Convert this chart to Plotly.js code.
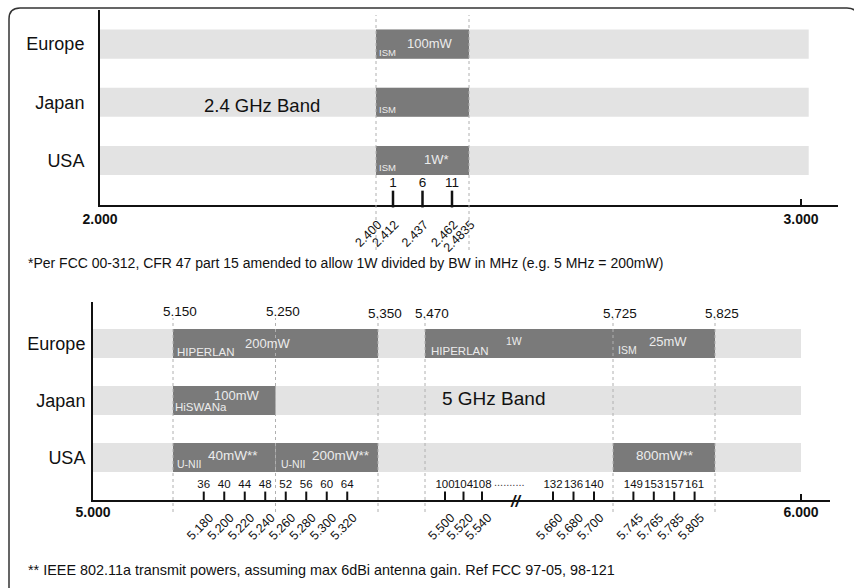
<!DOCTYPE html>
<html>
<head>
<meta charset="utf-8">
<script src="https://cdn.plot.ly/plotly-3.0.1.min.js"></script>
<style>html,body{margin:0;padding:0;background:#fff;}#chart{width:854px;height:588px;}</style>
</head>
<body>
<div id="chart"></div>
<script>
// ---------------- DATA ----------------
const regions = ['Europe', 'Japan', 'USA'];

// 2.4 GHz band (GHz)
const band24Extent = [2.000, 3.012];
const alloc24Region = ['Europe', 'Japan', 'USA'];
const alloc24Start = [2.400, 2.400, 2.400];
const alloc24End = [2.4835, 2.4835, 2.4835];
const edge24 = [2.400, 2.4835];
const ch24Num = ['1', '6', '11'];
const ch24Freq = [2.412, 2.437, 2.462];
const freqTicks24 = [2.400, 2.412, 2.437, 2.462, 2.4835];
const freqTickText24 = ['2.400', '2.412', '2.437', '2.462', '2.4835'];
const axisTicks24 = [2.000, 3.000];
const axisTickText24 = ['2.000', '3.000'];

// 5 GHz band (GHz)
const band5Extent = [5.000, 6.000];
const alloc5Region = ['Europe', 'Europe', 'Europe', 'Japan', 'USA', 'USA', 'USA'];
const alloc5Start = [5.150, 5.470, 5.725, 5.150, 5.150, 5.250, 5.725];
const alloc5End = [5.350, 5.725, 5.825, 5.250, 5.250, 5.350, 5.825];
const edge5 = [5.150, 5.250, 5.350, 5.470, 5.725, 5.825];
const edge5Text = ['5.150', '5.250', '5.350', '5.470', '5.725', '5.825'];
const ch5Num = ['36', '40', '44', '48', '52', '56', '60', '64', '100', '104', '108', '132', '136', '140', '149', '153', '157', '161'];
const ch5Freq = [5.180, 5.200, 5.220, 5.240, 5.260, 5.280, 5.300, 5.320, 5.500, 5.520, 5.540, 5.660, 5.680, 5.700, 5.745, 5.765, 5.785, 5.805];
const freqTickText5 = ['5.180', '5.200', '5.220', '5.240', '5.260', '5.280', '5.300', '5.320', '5.500', '5.520', '5.540', '5.660', '5.680', '5.700', '5.745', '5.765', '5.785', '5.805'];
const axisTicks5 = [5.000, 6.000];
const axisTickText5 = ['5.000', '6.000'];

const footnote24 = '*Per FCC 00-312, CFR 47 part 15 amended to allow 1W divided by BW in MHz (e.g. 5 MHz = 200mW)';
const footnote5 = '** IEEE 802.11a transmit powers, assuming max 6dBi antenna gain. Ref FCC 97-05, 98-121';

// ---------------- SCHEMATIC (non-linear) FREQUENCY SCALE ----------------
const warp24F = [2.000, 2.400, 2.412, 2.462, 2.4835, 3.000];
const warp24P = [100, 376, 393, 452, 469, 801];
const warp5F = [5.000, 5.150, 5.350, 5.470, 5.500, 5.540, 5.660, 5.700, 5.725, 5.825, 6.000];
const warp5P = [93, 173, 378, 425, 445, 482, 553, 594, 613, 715, 801];
function makeWarp(F, P) {
  return function (f) {
    let i = 0;
    if (f <= F[0]) i = 0;
    else if (f >= F[F.length - 1]) i = F.length - 2;
    else { while (i < F.length - 2 && f > F[i + 1]) i++; }
    return P[i] + (f - F[i]) * (P[i + 1] - P[i]) / (F[i + 1] - F[i]);
  };
}
const w24 = makeWarp(warp24F, warp24P);
const w5 = makeWarp(warp5F, warp5P);
const yOf = r => 2 - regions.indexOf(r);

// ---------------- STYLE ----------------
const FONT = 'Liberation Sans, Arial, Helvetica, sans-serif';
const LIGHT = '#e3e3e3';
const DARK = '#7a7a7a';
const INK = '#111111';
const BARTXT = '#ececec';
const W = 854, H = 588;
const px = v => v / W, py = v => 1 - v / H;

const traces = [];
traces.push({
  type: 'bar', orientation: 'h', xaxis: 'x', yaxis: 'y',
  y: regions.map(yOf), base: regions.map(() => w24(band24Extent[0])),
  x: regions.map(() => w24(band24Extent[1]) - w24(band24Extent[0])),
  width: 0.5, marker: { color: LIGHT, line: { width: 0 } }, hoverinfo: 'skip'
});
traces.push({
  type: 'bar', orientation: 'h', xaxis: 'x', yaxis: 'y',
  y: alloc24Region.map(yOf), base: alloc24Start.map(w24),
  x: alloc24Start.map((s, i) => w24(alloc24End[i]) - w24(s)),
  width: 0.5, marker: { color: DARK, line: { width: 0 } }, hoverinfo: 'skip'
});
traces.push({
  type: 'bar', orientation: 'h', xaxis: 'x2', yaxis: 'y2',
  y: regions.map(yOf), base: regions.map(() => w5(band5Extent[0])),
  x: regions.map(() => w5(band5Extent[1]) - w5(band5Extent[0])),
  width: 0.51, marker: { color: LIGHT, line: { width: 0 } }, hoverinfo: 'skip'
});
traces.push({
  type: 'bar', orientation: 'h', xaxis: 'x2', yaxis: 'y2',
  y: alloc5Region.map(yOf), base: alloc5Start.map(w5),
  x: alloc5Start.map((s, i) => w5(alloc5End[i]) - w5(s)),
  width: 0.51, marker: { color: DARK, line: { width: 0 } }, hoverinfo: 'skip'
});
traces.push({
  type: 'scatter', mode: 'markers+text', xaxis: 'x3', yaxis: 'y',
  x: ch24Freq.map(w24), y: ch24Freq.map(() => -0.662),
  text: ch24Num, textposition: 'top center',
  textfont: { family: FONT, size: 13.5, color: INK },
  marker: { symbol: 'line-ns', size: 12, line: { width: 2.5, color: INK } },
  hoverinfo: 'skip', cliponaxis: false
});
traces.push({
  type: 'scatter', mode: 'markers+text', xaxis: 'x4', yaxis: 'y2',
  x: ch5Freq.map(w5), y: ch5Freq.map(() => -0.684),
  text: ch5Num, textposition: 'top center',
  textfont: { family: FONT, size: 11.5, color: INK },
  marker: { symbol: 'line-ns', size: 7, line: { width: 2, color: INK } },
  hoverinfo: 'skip', cliponaxis: false
});

const shapes = [];
edge24.forEach(f => shapes.push({
  type: 'line', xref: 'x', yref: 'paper', x0: w24(f), x1: w24(f), y0: py(250), y1: py(15),
  line: { color: '#b0b0b0', width: 1, dash: 'dot' }, layer: 'above'
}));
edge5.forEach(f => shapes.push({
  type: 'line', xref: 'x2', yref: 'paper', x0: w5(f), x1: w5(f), y0: py(512), y1: py(318),
  line: { color: '#b0b0b0', width: 1, dash: 'dot' }, layer: 'above'
}));
{
  const L = 9, T = 8, R = 858, B = 600, r = 11;
  const p = `M ${px(L)},${py(B)} L ${px(L)},${py(T + r)} Q ${px(L)},${py(T)} ${px(L + r)},${py(T)} L ${px(R - r)},${py(T)} Q ${px(R)},${py(T)} ${px(R)},${py(T + r)} L ${px(R)},${py(B)}`;
  shapes.push({ type: 'path', xref: 'paper', yref: 'paper', path: p, line: { color: '#333', width: 1.5 } });
}

const ann = [];
function barLabel(xref, yref, warp, f, region, text, dx, dy, size) {
  ann.push({
    xref, yref, x: warp(f), y: yOf(region), xanchor: 'left', yanchor: 'middle',
    xshift: dx, yshift: dy, text, showarrow: false,
    font: { family: FONT, size, color: BARTXT }
  });
}
barLabel('x', 'y', w24, 2.400, 'Europe', 'ISM', 1, -8, 9.5);
barLabel('x', 'y', w24, 2.400, 'Europe', '100mW', 29, 1, 13);
barLabel('x', 'y', w24, 2.400, 'Japan', 'ISM', 1, -7, 9.5);
barLabel('x', 'y', w24, 2.400, 'USA', 'ISM', 1, -7, 9.5);
barLabel('x', 'y', w24, 2.400, 'USA', '1W*', 46, 1, 13);
barLabel('x2', 'y2', w5, 5.150, 'Europe', 'HIPERLAN', 2, -9, 11.5);
barLabel('x2', 'y2', w5, 5.150, 'Europe', '200mW', 70, 0, 13);
barLabel('x2', 'y2', w5, 5.470, 'Europe', 'HIPERLAN', 4, -8, 11.5);
barLabel('x2', 'y2', w5, 5.470, 'Europe', '1W', 79, 2, 10.5);
barLabel('x2', 'y2', w5, 5.725, 'Europe', 'ISM', 3, -7, 10.5);
barLabel('x2', 'y2', w5, 5.725, 'Europe', '25mW', 34, 2, 13);
barLabel('x2', 'y2', w5, 5.150, 'Japan', '100mW', 39, 4.5, 13);
barLabel('x2', 'y2', w5, 5.150, 'Japan', 'HiSWANa', 0, -6.5, 11.5);
barLabel('x2', 'y2', w5, 5.150, 'USA', 'U-NII', 2, -6.5, 10.5);
barLabel('x2', 'y2', w5, 5.150, 'USA', '40mW**', 33, 1.5, 13.5);
barLabel('x2', 'y2', w5, 5.250, 'USA', 'U-NII', 3, -6.5, 10.5);
barLabel('x2', 'y2', w5, 5.250, 'USA', '200mW**', 34, 1.5, 13.5);
barLabel('x2', 'y2', w5, 5.725, 'USA', '800mW**', 21, 1.5, 13.5);

edge5.forEach((f, i) => ann.push({
  xref: 'x2', yref: 'paper', x: w5(f), y: py(i >= 2 ? 313 : 311), xshift: 7, xanchor: 'center', yanchor: 'middle',
  text: edge5Text[i], showarrow: false, font: { family: FONT, size: 13.5, color: INK }
}));
ann.push({ xref: 'x2', yref: 'paper', x: w5(5.540), xshift: 10, y: py(482), xanchor: 'left', yanchor: 'middle',
  text: '..........', showarrow: false, font: { family: FONT, size: 11, color: '#444' } });
ann.push({ xref: 'paper', yref: 'paper', x: px(515), y: py(501), xanchor: 'center', yanchor: 'middle',
  text: '<b><i>//</i></b>', showarrow: false, font: { family: FONT, size: 16, color: INK } });
ann.push({ xref: 'paper', yref: 'paper', x: px(262), y: py(105), xanchor: 'center', yanchor: 'middle',
  text: '2.4 GHz Band', showarrow: false, font: { family: FONT, size: 18.5, color: INK } });
ann.push({ xref: 'paper', yref: 'paper', x: px(494), y: py(398), xanchor: 'center', yanchor: 'middle',
  text: '5 GHz Band', showarrow: false, font: { family: FONT, size: 19, color: INK } });
ann.push({ xref: 'paper', yref: 'paper', x: px(26), y: py(263), xanchor: 'left', yanchor: 'middle',
  text: footnote24, showarrow: false, font: { family: FONT, size: 14, color: INK } });
ann.push({ xref: 'paper', yref: 'paper', x: px(26), y: py(570), xanchor: 'left', yanchor: 'middle',
  text: footnote5, showarrow: false, font: { family: FONT, size: 14.4, color: INK } });

const baseX = { showgrid: false, zeroline: false, fixedrange: true };
const layout = {
  width: W, height: H, margin: { l: 0, r: 0, t: 0, b: 0 },
  paper_bgcolor: '#fff', plot_bgcolor: 'rgba(0,0,0,0)',
  barmode: 'overlay', showlegend: false, hovermode: false,
  font: { family: FONT, color: INK },
  xaxis: Object.assign({}, baseX, {
    domain: [px(100), px(838)], range: [100, 838], anchor: 'y',
    showline: true, linecolor: INK, linewidth: 2,
    ticks: 'inside', ticklen: 6, tickwidth: 1.5, tickcolor: INK,
    tickvals: axisTicks24.map(w24), ticktext: axisTickText24.map(t => '<b>' + t + '</b>'),
    tickfont: { family: FONT, size: 14, color: INK }, ticklabelstandoff: 0
  }),
  xaxis3: Object.assign({}, baseX, {
    overlaying: 'x', anchor: 'y', range: [100, 838], side: 'bottom',
    showline: false, ticks: '', tickangle: -45,
    tickvals: freqTicks24.map(w24), ticktext: freqTickText24,
    tickfont: { family: FONT, size: 12.5, color: INK }, ticklabelstandoff: 9, ticklabelshift: 2
  }),
  yaxis: {
    domain: [py(205), py(10)], range: [-0.764, 2.586], anchor: 'x',
    showline: true, linecolor: INK, linewidth: 2, ticks: '',
    tickvals: regions.map(yOf), ticktext: regions,
    tickfont: { family: FONT, size: 18, color: INK }, ticklabelstandoff: 10,
    showgrid: false, zeroline: false, fixedrange: true
  },
  xaxis2: Object.assign({}, baseX, {
    domain: [px(93), px(830)], range: [93, 830], anchor: 'y2',
    showline: true, linecolor: INK, linewidth: 2,
    ticks: 'inside', ticklen: 6, tickwidth: 1.5, tickcolor: INK,
    tickvals: axisTicks5.map(w5), ticktext: axisTickText5.map(t => '<b>' + t + '</b>'),
    tickfont: { family: FONT, size: 14, color: INK }, ticklabelstandoff: -2
  }),
  xaxis4: Object.assign({}, baseX, {
    overlaying: 'x2', anchor: 'y2', range: [93, 830], side: 'bottom',
    showline: false, ticks: '', tickangle: -45,
    tickvals: ch5Freq.map(w5), ticktext: freqTickText5,
    tickfont: { family: FONT, size: 12.5, color: INK }, ticklabelstandoff: 7, ticklabelshift: 6
  }),
  yaxis2: {
    domain: [py(500), py(302)], range: [-0.746, 2.728], anchor: 'x2',
    showline: true, linecolor: INK, linewidth: 2, ticks: '',
    tickvals: regions.map(yOf), ticktext: regions,
    tickfont: { family: FONT, size: 18, color: INK }, ticklabelstandoff: 2,
    showgrid: false, zeroline: false, fixedrange: true
  },
  shapes, annotations: ann
};

Plotly.newPlot('chart', traces, layout, { staticPlot: true, displayModeBar: false });
</script>
</body>
</html>
